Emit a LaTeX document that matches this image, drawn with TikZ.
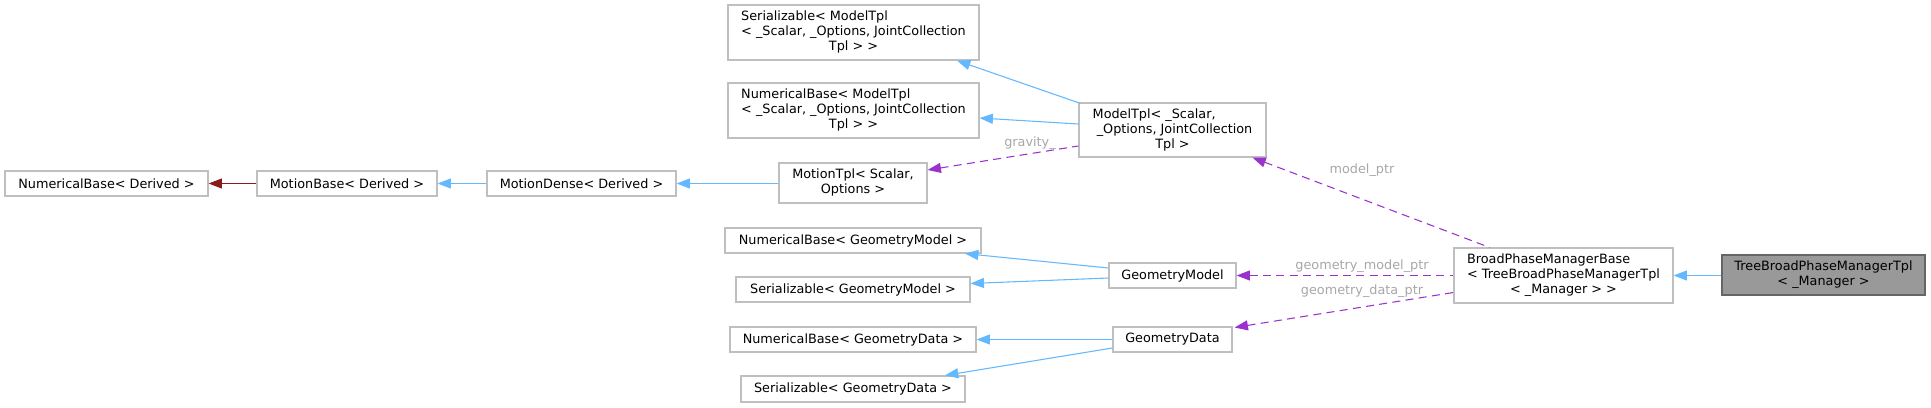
\documentclass[tikz,border=0pt]{standalone}
\usepackage{fontspec}
\setmainfont{DejaVu Sans}
\usetikzlibrary{arrows.meta,calc}
\definecolor{edgeblue}{HTML}{63B8FF}
\definecolor{edgepurple}{HTML}{9A32CD}
\definecolor{edgered}{HTML}{8B1A1A}
\definecolor{boxgray}{HTML}{BFBFBF}
\definecolor{labelgray}{HTML}{A8A8A8}
\definecolor{hlfill}{HTML}{999999}
\definecolor{hldraw}{HTML}{666666}
\newcommand{\lastc}[1]{\multicolumn{1}{@{}c@{}}{#1}}
\begin{document}
\begin{tikzpicture}[x=0.75pt,y=-0.75pt,
  cls/.style 2 args={draw=boxgray, line width=0.9pt, fill=white, inner sep=0pt,
     minimum width=#1*0.75pt, minimum height=#2*0.75pt,
     font=\fontsize{9.6pt}{11.25pt}\selectfont},
  hl/.style={draw=hldraw, fill=hlfill},
  inh/.style={draw=edgeblue, line width=0.8pt, {Triangle[length=10pt,width=7.5pt]}-},
  inhred/.style={draw=edgered, line width=0.8pt, {Triangle[length=10pt,width=7.5pt]}-},
  use/.style={draw=edgepurple, line width=0.8pt, dash pattern=on 6pt off 4pt, {Triangle[length=10pt,width=7.5pt]}-},
  lbl/.style={text=labelgray, inner sep=0pt, font=\fontsize{9.6pt}{11.25pt}\selectfont}
]
\useasboundingbox[fill=white] (0,0) rectangle (1931,407);

% nodes
\node[cls={203}{25}] (nbD) at (106.5,183.5) {NumericalBase< Derived >};
\node[cls={180}{25}] (mb) at (347,183.5) {MotionBase< Derived >};
\node[cls={189}{25}] (md) at (581.5,183.5) {MotionDense< Derived >};
\node[cls={148}{40}] (mt) at (853,183) {\begin{tabular}{@{}l@{}}MotionTpl< Scalar,\\\lastc{Options >}\end{tabular}};
\node[cls={251}{55}] (serM) at (853.5,32.5) {\begin{tabular}{@{}l@{}}Serializable< ModelTpl\\< \_Scalar, \_Options, JointCollection\\\lastc{Tpl > >}\end{tabular}};
\node[cls={251}{55}] (nbM) at (853.5,110.5) {\begin{tabular}{@{}l@{}}NumericalBase< ModelTpl\\< \_Scalar, \_Options, JointCollection\\\lastc{Tpl > >}\end{tabular}};
\node[cls={187}{54}] (model) at (1172.5,130) {\begin{tabular}{@{}l@{}}ModelTpl< \_Scalar,\\\ \_Options, JointCollection\\\lastc{Tpl >}\end{tabular}};
\node[cls={256}{25}] (nbGM) at (853,240.5) {NumericalBase< GeometryModel >};
\node[cls={234}{25}] (serGM) at (853,289.5) {Serializable< GeometryModel >};
\node[cls={246}{25}] (nbGD) at (853,339.5) {NumericalBase< GeometryData >};
\node[cls={224}{26}] (serGD) at (853,389) {Serializable< GeometryData >};
\node[cls={127}{25}] (gm) at (1172.5,275.5) {GeometryModel};
\node[cls={119}{25}] (gd) at (1172.5,339.5) {GeometryData};
\node[cls={219}{55}] (bpm) at (1563.5,275.5) {\begin{tabular}{@{}l@{}}BroadPhaseManagerBase\\< TreeBroadPhaseManagerTpl\\\lastc{< \_Manager > >}\end{tabular}};
\node[cls={203}{40},hl] (tree) at (1823.5,275) {\begin{tabular}{@{}c@{}}TreeBroadPhaseManagerTpl\\< \_Manager >\end{tabular}};

% inheritance edges
\draw[inh] ($(serM.south)+(103.5,0)$) -- ($(model.north west)+(2,1)$);
\draw[inh] ($(nbM.east)+(0,7.5)$) -- ($(model.west)+(0,-6)$);
\draw[inh] (md.east) -- (mt.west |- md.east);
\draw[inh] (mb.east) -- (md.west);
\draw[inhred] (nbD.east) -- (mb.west);
\draw[inh] ($(nbGM.south)+(112,0)$) -- ($(gm.west)+(0,-7.5)$);
\draw[inh] ($(serGM.east)+(0,-6)$) -- ($(gm.west)+(0,2.5)$);
\draw[inh] (nbGD.east) -- (gd.west);
\draw[inh] ($(serGD.north)+(92,0)$) -- ($(gd.west)+(0,8.5)$);
\draw[inh] (bpm.east) -- (tree.west |- bpm.east);

% usage edges
\draw[use] ($(mt.east)+(0,-13)$) -- ($(model.west)+(0,16)$);
\draw[use] ($(model.south)+(80,0)$) -- ($(bpm.north)+(-74,0)$);
\draw[use] (gm.east) -- (bpm.west |- gm.east);
\draw[use] ($(gd.east)+(2,-12)$) -- ($(bpm.west)+(0,17)$);

% labels
\node[lbl] (lgrav) at (1030,143) {gravity\_};
\node[lbl] (lmodel) at (1362,170) {model\_ptr};
\node[lbl] (lgm) at (1362,266) {geometry\_model\_ptr};
\node[lbl] (lgd) at (1362,291) {geometry\_data\_ptr};
\end{tikzpicture}
\end{document}
